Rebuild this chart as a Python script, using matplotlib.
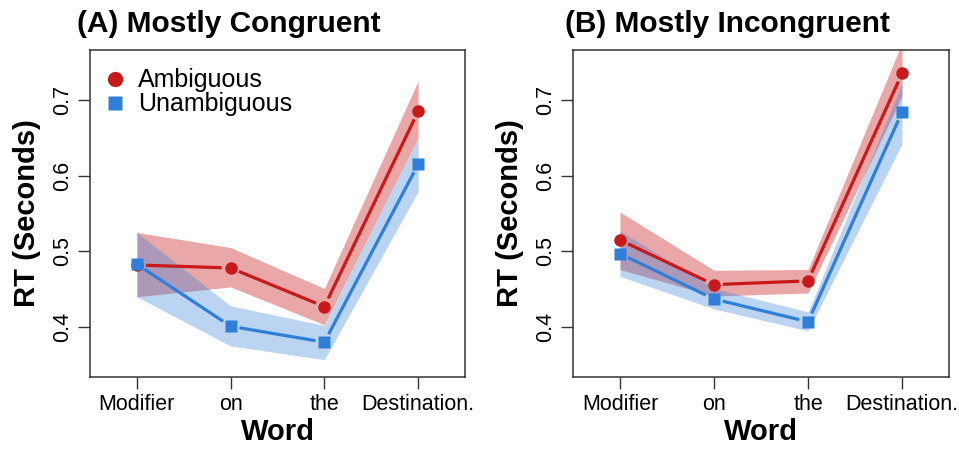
import matplotlib
matplotlib.use("Agg")
import matplotlib.pyplot as plt
import numpy as np

plt.rcParams['font.family'] = ['Liberation Sans', 'DejaVu Sans']

words = ["Modifier", "on", "the", "Destination."]
y_ticks = [0.4, 0.5, 0.6, 0.7]

# Panel A: Mostly Congruent
a_amb = [0.482, 0.478, 0.427, 0.685]
a_amb_lo = [0.440, 0.453, 0.403, 0.650]
a_amb_hi = [0.525, 0.505, 0.451, 0.725]
a_una = [0.483, 0.401, 0.380, 0.615]
a_una_lo = [0.440, 0.375, 0.357, 0.579]
a_una_hi = [0.525, 0.428, 0.402, 0.650]

# Panel B: Mostly Incongruent
b_amb = [0.515, 0.456, 0.461, 0.735]
b_amb_lo = [0.476, 0.441, 0.445, 0.705]
b_amb_hi = [0.552, 0.475, 0.476, 0.775]
b_una = [0.497, 0.437, 0.407, 0.684]
b_una_lo = [0.467, 0.424, 0.395, 0.642]
b_una_hi = [0.527, 0.451, 0.420, 0.722]

RED = "#C9191A"
BLUE = "#2F7FD9"

W, H = 959, 449
fig = plt.figure(figsize=(W / 100, H / 100), dpi=100)


def gapped_line(ax, x, y, color, gap_px=9):
    trans = ax.transData
    pts = trans.transform(np.column_stack([x, y]))
    inv = trans.inverted()
    for i in range(len(pts) - 1):
        p0, p1 = pts[i], pts[i + 1]
        d = p1 - p0
        L = np.hypot(*d)
        u = d / L
        q0 = p0 + u * gap_px
        q1 = p1 - u * gap_px
        seg = inv.transform(np.vstack([q0, q1]))
        ax.plot(seg[:, 0], seg[:, 1], color=color, lw=2.3,
                solid_capstyle='butt', zorder=3)


def panel(rect, title, title_x, amb, amb_lo, amb_hi, una, una_lo, una_hi, legend):
    ax = fig.add_axes(rect)
    x = np.arange(1, len(words) + 1)
    ax.set_xlim(0.5, 4.5)
    ax.set_ylim(0.334, 0.766)
    ax.fill_between(x, amb_lo, amb_hi, color=RED, alpha=0.38, lw=0, zorder=1)
    ax.fill_between(x, una_lo, una_hi, color=BLUE, alpha=0.33, lw=0, zorder=2)
    gapped_line(ax, x, amb, RED)
    gapped_line(ax, x, una, BLUE)
    ax.plot(x, amb, 'o', color=RED, ms=9, mec='none', zorder=4)
    ax.plot(x, una, 's', color=BLUE, ms=8, mec='none', zorder=4)
    ax.set_xticks(x)
    ax.set_xticklabels(words, fontsize=15.5)
    ax.set_yticks(y_ticks)
    ax.set_yticklabels([f"{v:.1f}" for v in y_ticks], fontsize=15.5,
                       rotation=90, va='center')
    ax.tick_params(axis='both', direction='out', length=8.5, width=1.0,
                   color='#333333', pad=4)
    ax.tick_params(axis='x', pad=4)
    for s in ax.spines.values():
        s.set_linewidth(1.1)
        s.set_color('#333333')
    ax.set_xlabel("Word", fontsize=21, fontweight='bold', labelpad=2)
    ax.set_ylabel("RT (Seconds)", fontsize=21, fontweight='bold', labelpad=8)
    fig.text(title_x, 1 - 24 / H, title, fontsize=21.5, fontweight='bold',
             ha='left', va='center')
    if legend:
        ax.plot([], [], 'o', color=RED, ms=11, mec='none', label="Ambiguous")
        ax.plot([], [], 's', color=BLUE, ms=9.5, mec='none', label="Unambiguous")
        h, l = ax.get_legend_handles_labels()
        ax.legend(h[-2:], l[-2:], loc='upper left', frameon=False,
                  fontsize=18, handletextpad=0.3, labelspacing=0.0,
                  borderaxespad=0.2, handlelength=1.2,
                  bbox_to_anchor=(-0.013, 0.99))
    return ax


panel([90 / W, 1 - 377 / H, 375 / W, 327 / H], "(A) Mostly Congruent", 77 / W,
      a_amb, a_amb_lo, a_amb_hi, a_una, a_una_lo, a_una_hi, True)
panel([573 / W, 1 - 377 / H, 376 / W, 327 / H], "(B) Mostly Incongruent", 565 / W,
      b_amb, b_amb_lo, b_amb_hi, b_una, b_una_lo, b_una_hi, False)

fig.savefig("out.png", dpi=100)
